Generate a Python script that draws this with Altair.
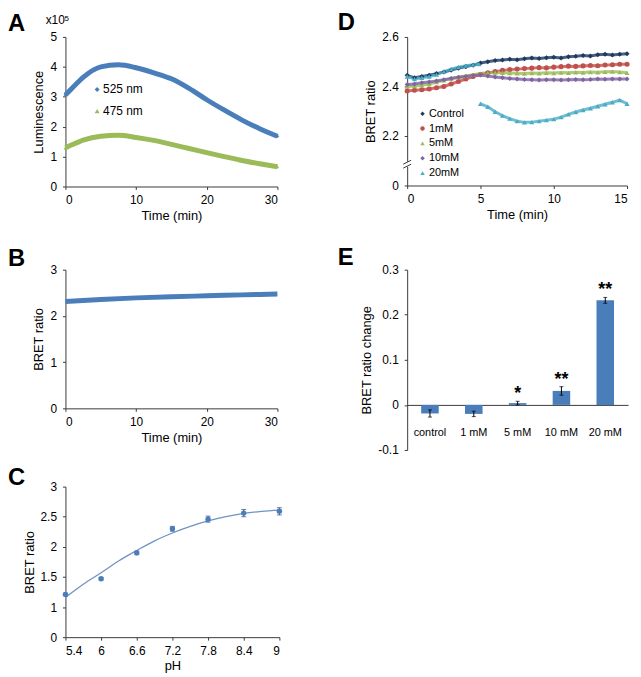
import altair as alt
import pandas as pd

FONT = "Liberation Sans"
AX = "#3a3a3a"
BLUE = "#4A7EBB"
GREEN = "#9BBB59"

# ---------------- data ----------------
# Panel A: luminescence (x10^5) over time
a_time = [0, 1, 2.5, 5, 7.5, 10, 12.5, 15, 17.5, 20, 22.5, 25, 27.5, 30]
a_525 = [3.06, 3.30, 3.65, 4.00, 4.07, 3.97, 3.80, 3.60, 3.28, 2.90, 2.55, 2.22, 1.93, 1.68]
a_475 = [1.29, 1.40, 1.55, 1.68, 1.71, 1.64, 1.54, 1.41, 1.27, 1.13, 1.00, 0.87, 0.76, 0.66]
a_series = ["525 nm", "475 nm"]

# Panel B: BRET ratio over time
b_time = [0, 5, 10, 15, 20, 25, 30]
b_ratio = [2.31, 2.355, 2.39, 2.415, 2.435, 2.455, 2.475]

# Panel C: BRET ratio vs pH
c_ph = [5.4, 6, 6.6, 7.2, 7.8, 8.4, 9]
c_ratio = [1.21, 1.47, 1.90, 2.30, 2.46, 2.56, 2.59]
c_err = [0.02, 0.02, 0.03, 0.04, 0.05, 0.06, 0.06]
c_fit_ph = [5.4, 5.7, 6.0, 6.3, 6.6, 6.9, 7.2, 7.5, 7.8, 8.1, 8.4, 8.7, 9.0]
c_fit = [1.16, 1.38, 1.57, 1.77, 1.94, 2.10, 2.23, 2.34, 2.43, 2.50, 2.555, 2.59, 2.61]

# Panel D: BRET ratio over time for different concentrations
d_series = ["Control", "1mM", "5mM", "10mM", "20mM"]
d_time = [0, 0.5, 1, 1.5, 2, 2.5, 3, 3.5, 4, 4.5, 5, 5.5, 6, 6.5, 7, 7.5, 8, 8.5, 9, 9.5,
          10, 10.5, 11, 11.5, 12, 12.5, 13, 13.5, 14, 14.5, 15]
d_control = [2.445, 2.435, 2.44, 2.445, 2.452, 2.458, 2.466, 2.474, 2.48, 2.486, 2.495,
             2.50, 2.505, 2.507, 2.51, 2.508, 2.512, 2.515, 2.513, 2.516, 2.518, 2.515,
             2.52, 2.522, 2.525, 2.523, 2.528, 2.53, 2.527, 2.53, 2.532]
d_1mM = [2.382, 2.385, 2.387, 2.39, 2.395, 2.40, 2.41, 2.42, 2.43, 2.44, 2.448, 2.455,
         2.46, 2.465, 2.468, 2.47, 2.472, 2.474, 2.476, 2.475, 2.478, 2.48, 2.482, 2.481,
         2.483, 2.485, 2.484, 2.487, 2.488, 2.49, 2.49]
d_5mM = [2.40, 2.402, 2.405, 2.41, 2.418, 2.425, 2.432, 2.437, 2.442, 2.447, 2.452, 2.455,
         2.456, 2.455, 2.454, 2.453, 2.452, 2.454, 2.453, 2.455, 2.454, 2.456, 2.455, 2.457,
         2.456, 2.458, 2.457, 2.459, 2.46, 2.458, 2.455]
d_10mM = [2.408, 2.41, 2.415, 2.418, 2.422, 2.427, 2.432, 2.437, 2.44, 2.444, 2.446, 2.442,
          2.438, 2.435, 2.432, 2.43, 2.428, 2.427, 2.426, 2.427, 2.427, 2.426, 2.427, 2.428,
          2.427, 2.428, 2.43, 2.429, 2.43, 2.43, 2.43]
d_20_time = [0, 0.5, 1, 1.5, 2, 2.5, 3, 3.5, 4, 4.5, 4.9, 5, 5.5, 6, 6.5, 7, 7.5, 8, 8.5, 9,
             9.5, 10, 10.5, 11, 11.5, 12, 12.5, 13, 13.5, 14, 14.5, 15]
d_20mM = [2.44, 2.43, 2.435, 2.44, 2.448, 2.46, 2.47, 2.478, 2.484, 2.488, 2.49,
          2.33, 2.318, 2.298, 2.282, 2.27, 2.26, 2.255, 2.256, 2.26, 2.264, 2.268, 2.276,
          2.287, 2.297, 2.305, 2.312, 2.32, 2.328, 2.336, 2.345, 2.33]
d_colors = ["#1F3A60", "#C0504D", "#9BBB59", "#8064A2", "#4BACC6"]
d_shapes = ["diamond", "circle", "triangle-up", "diamond", "triangle-up"]

# Panel E: BRET ratio change
e_cats = ["control", "1 mM", "5 mM", "10 mM", "20 mM"]
e_vals = [-0.019, -0.020, 0.004, 0.031, 0.232]
e_err = [0.008, 0.006, 0.004, 0.0095, 0.0065]
e_stars = ["", "", "*", "**", "**"]


# ---------------- helpers ----------------
def letter(ch, lx, ly):
    return alt.Chart(pd.DataFrame({"t": [ch]})).mark_text(
        align="left", baseline="top", font=FONT, fontSize=24, fontWeight="bold", color="#000"
    ).encode(text="t:N", x=alt.value(lx), y=alt.value(ly))


def spacer(lx, sy):
    return alt.Chart(pd.DataFrame({"t": ["."]})).mark_text(
        align="left", baseline="top", fontSize=10, opacity=0
    ).encode(text="t:N", x=alt.value(lx), y=alt.value(sy))


def label(txt, lx, ly, size, align="left", baseline="alphabetic"):
    return alt.Chart(pd.DataFrame({"t": [txt]})).mark_text(
        align=align, baseline=baseline, font=FONT, fontSize=size, color="#000"
    ).encode(text="t:N", x=alt.value(lx), y=alt.value(ly))


# ---------------- Panel A ----------------
WA, HA = 214, 151
dfa = pd.DataFrame({
    "time": a_time + a_time,
    "value": a_525 + a_475,
    "wave": [a_series[0]] * len(a_time) + [a_series[1]] * len(a_time),
})
xA = alt.X("time:Q", scale=alt.Scale(domain=[0, 30], nice=False),
           axis=alt.Axis(values=[0, 10, 20, 30], title="Time (min)"))
yA = alt.Y("value:Q", scale=alt.Scale(domain=[0, 5], nice=False),
           axis=alt.Axis(values=[0, 1, 2, 3, 4, 5], title="Luminescence"))
a_lines = [
    alt.Chart(dfa).transform_filter(alt.datum.wave == s).mark_line(
        color=c, strokeWidth=5, interpolate="monotone").encode(x=xA, y=yA)
    for s, c in zip(a_series, [BLUE, GREEN])
]
legA = alt.Legend(orient="none", legendX=26, legendY=47, title=None, labelFont=FONT,
                  labelFontSize=12, labelColor="#000", symbolSize=25, rowPadding=10,
                  labelOffset=0, symbolStrokeWidth=0)
a_pts = alt.Chart(dfa).mark_point(filled=True, size=14, opacity=1).encode(
    x=xA, y=yA,
    color=alt.Color("wave:N", scale=alt.Scale(domain=a_series, range=[BLUE, GREEN]), legend=legA),
    shape=alt.Shape("wave:N", scale=alt.Scale(domain=a_series, range=["diamond", "triangle-up"]), legend=legA),
)
panelA = alt.layer(
    *a_lines, a_pts,
    letter("A", -58, -25),
    label("x10", -20, -13, 12),
    label("5", -1, -16, 8),
).properties(width=WA, height=HA)

# ---------------- Panel B ----------------
WB, HB = 214, 140
dfb = pd.DataFrame({"time": b_time, "ratio": b_ratio})
panelB = alt.layer(
    alt.Chart(dfb).mark_line(color=BLUE, strokeWidth=5, interpolate="monotone").encode(
        x=alt.X("time:Q", scale=alt.Scale(domain=[0, 30], nice=False),
                axis=alt.Axis(values=[0, 10, 20, 30], title="Time (min)")),
        y=alt.Y("ratio:Q", scale=alt.Scale(domain=[0, 3], nice=False),
                axis=alt.Axis(values=[0, 1, 2, 3], title="BRET ratio")),
    ),
    letter("B", -58, -23),
    spacer(-58, -29),
).properties(width=WB, height=HB)

# ---------------- Panel C ----------------
WC, HC = 216, 152
dfc = pd.DataFrame({"ph": c_ph, "ratio": c_ratio, "err": c_err})
dfc["lo"] = dfc["ratio"] - dfc["err"]
dfc["hi"] = dfc["ratio"] + dfc["err"]
dffit = pd.DataFrame({"ph": c_fit_ph, "fit": c_fit})
xC = alt.X("ph:Q", scale=alt.Scale(domain=[5.4, 9], nice=False),
           axis=alt.Axis(values=c_ph, title="pH", labelExpr="datum.value + ''"))
yC_scale = alt.Scale(domain=[0.5, 3], nice=False)
yC_axis = alt.Axis(values=[0.5, 1, 1.5, 2, 2.5, 3], title="BRET ratio",
                   labelExpr="datum.value == 0.5 ? '0' : datum.value + ''")
panelC = alt.layer(
    alt.Chart(dffit).mark_line(color="#6F93C6", strokeWidth=1.3, interpolate="monotone").encode(
        x=xC, y=alt.Y("fit:Q", scale=yC_scale, axis=yC_axis)),
    alt.Chart(dfc).mark_rule(color="#2F4F7F", strokeWidth=1).encode(
        x=xC, y=alt.Y("lo:Q", scale=yC_scale, axis=yC_axis), y2="hi:Q"),
    alt.Chart(dfc).mark_tick(color="#2F4F7F", thickness=1, size=5, orient="horizontal").encode(
        x=xC, y=alt.Y("lo:Q", scale=yC_scale, axis=yC_axis)),
    alt.Chart(dfc).mark_tick(color="#2F4F7F", thickness=1, size=5, orient="horizontal").encode(
        x=xC, y=alt.Y("hi:Q", scale=yC_scale, axis=yC_axis)),
    alt.Chart(dfc).mark_circle(color=BLUE, size=30, opacity=1).encode(
        x=xC, y=alt.Y("ratio:Q", scale=yC_scale, axis=yC_axis)),
    letter("C", -58, -21),
    spacer(-58, -24),
).properties(width=WC, height=HC)

# ---------------- Panel D ----------------
WD, HD = 222, 150
rows = []
for s, vals in zip(d_series[:4], [d_control, d_1mM, d_5mM, d_10mM]):
    for t, v in zip(d_time, vals):
        rows.append({"time": t, "value": v, "conc": s, "seg": 1})
for t, v in zip(d_20_time, d_20mM):
    rows.append({"time": t, "value": v, "conc": "20mM", "seg": 1 if t < 5 else 2})
dfd = pd.DataFrame(rows)
xD = alt.X("time:Q", scale=alt.Scale(domain=[0, 15], nice=False),
           axis=alt.Axis(values=[0, 5, 10, 15], title="Time (min)"))
yD = alt.Y("value:Q", scale=alt.Scale(domain=[2.0, 2.6], nice=False),
           axis=alt.Axis(values=[2.0, 2.2, 2.4, 2.6], title="BRET ratio",
                         labelExpr="datum.value == 2 ? '0' : format(datum.value, '.1f')"))
d_lines = [
    alt.Chart(dfd).transform_filter(alt.datum.conc == s).mark_line(
        color=c, strokeWidth=3, opacity=0.8).encode(x=xD, y=yD, detail="seg:N")
    for s, c in zip(d_series, d_colors)
]
legD = alt.Legend(orient="none", legendX=10, legendY=72, title=None, labelFont=FONT,
                  labelFontSize=11, labelColor="#000", symbolSize=20, rowPadding=3,
                  labelOffset=1, symbolStrokeWidth=0)
d_pts = alt.Chart(dfd).mark_point(filled=True, size=26, opacity=1).encode(
    x=xD, y=yD,
    color=alt.Color("conc:N", scale=alt.Scale(domain=d_series, range=d_colors), legend=legD),
    shape=alt.Shape("conc:N", scale=alt.Scale(domain=d_series, range=d_shapes), legend=legD),
)
brk = pd.DataFrame({"k": [0]})
d_break = [
    alt.Chart(brk).mark_rect(color="white").encode(
        x=alt.value(-4), x2=alt.value(4), y=alt.value(HD - 24), y2=alt.value(HD - 19)),
    alt.Chart(brk).mark_rule(color=AX, strokeWidth=1).encode(
        x=alt.value(-4), x2=alt.value(4), y=alt.value(HD - 21.5), y2=alt.value(HD - 25.5)),
    alt.Chart(brk).mark_rule(color=AX, strokeWidth=1).encode(
        x=alt.value(-4), x2=alt.value(4), y=alt.value(HD - 17.5), y2=alt.value(HD - 21.5)),
]
panelD = alt.layer(
    *d_lines, d_pts, *d_break,
    letter("D", -70, -26),
).properties(width=WD, height=HD)

# ---------------- Panel E ----------------
WE, HE = 223, 182
dfe = pd.DataFrame({"cat": e_cats, "val": e_vals, "err": e_err, "star": e_stars})
dfe["lo"] = dfe["val"] - dfe["err"]
dfe["hi"] = dfe["val"] + dfe["err"]
xE = alt.X("cat:N", sort=e_cats, scale=alt.Scale(paddingInner=0.6, paddingOuter=0.32),
           axis=alt.Axis(title=None, labelAngle=0, ticks=False, offset=-45.5,
                         labelPadding=22, labelFontSize=11))
yE_scale = alt.Scale(domain=[-0.1, 0.3], nice=False)
yE_axis = alt.Axis(values=[-0.1, 0, 0.1, 0.2, 0.3], title="BRET ratio change",
                   labelExpr="(round(datum.value * 10) / 10) + ''")
panelE = alt.layer(
    alt.Chart(dfe).mark_bar(color=BLUE).encode(
        x=xE, y=alt.Y("val:Q", scale=yE_scale, axis=yE_axis)),
    alt.Chart(dfe).mark_rule(color="#000", strokeWidth=1).encode(
        x=xE, y=alt.Y("lo:Q", scale=yE_scale, axis=yE_axis), y2="hi:Q"),
    alt.Chart(dfe).mark_tick(color="#000", thickness=1, size=4, orient="horizontal").encode(
        x=xE, y=alt.Y("lo:Q", scale=yE_scale, axis=yE_axis)),
    alt.Chart(dfe).mark_tick(color="#000", thickness=1, size=4, orient="horizontal").encode(
        x=xE, y=alt.Y("hi:Q", scale=yE_scale, axis=yE_axis)),
    alt.Chart(dfe).mark_text(font=FONT, fontSize=18, fontWeight="bold", color="#000",
                             baseline="alphabetic", dy=-2).encode(
        x=xE, y=alt.Y("hi:Q", scale=yE_scale, axis=yE_axis), text="star:N"),
    letter("E", -70, -24),
).properties(width=WE, height=HE)

left = alt.vconcat(panelA, panelB, panelC, spacing=19)
right = alt.vconcat(panelD, panelE, spacing=25)

chart = alt.hconcat(left, right, spacing=51).resolve_scale(
    color="independent", shape="independent"
).resolve_legend(
    color="independent", shape="independent"
).properties(padding=0).configure_axis(
    labelFont=FONT, titleFont=FONT, labelFontSize=12, titleFontSize=13,
    titleFontWeight="normal", labelColor="#000", titleColor="#000",
    domainColor=AX, tickColor=AX, grid=False, tickSize=3, labelPadding=5,
    titlePadding=4, domainWidth=1, tickWidth=1,
).configure_axisY(labelPadding=6).configure_view(stroke=None)

chart.save("out.html", embed_options={"renderer": "svg", "actions": False})
